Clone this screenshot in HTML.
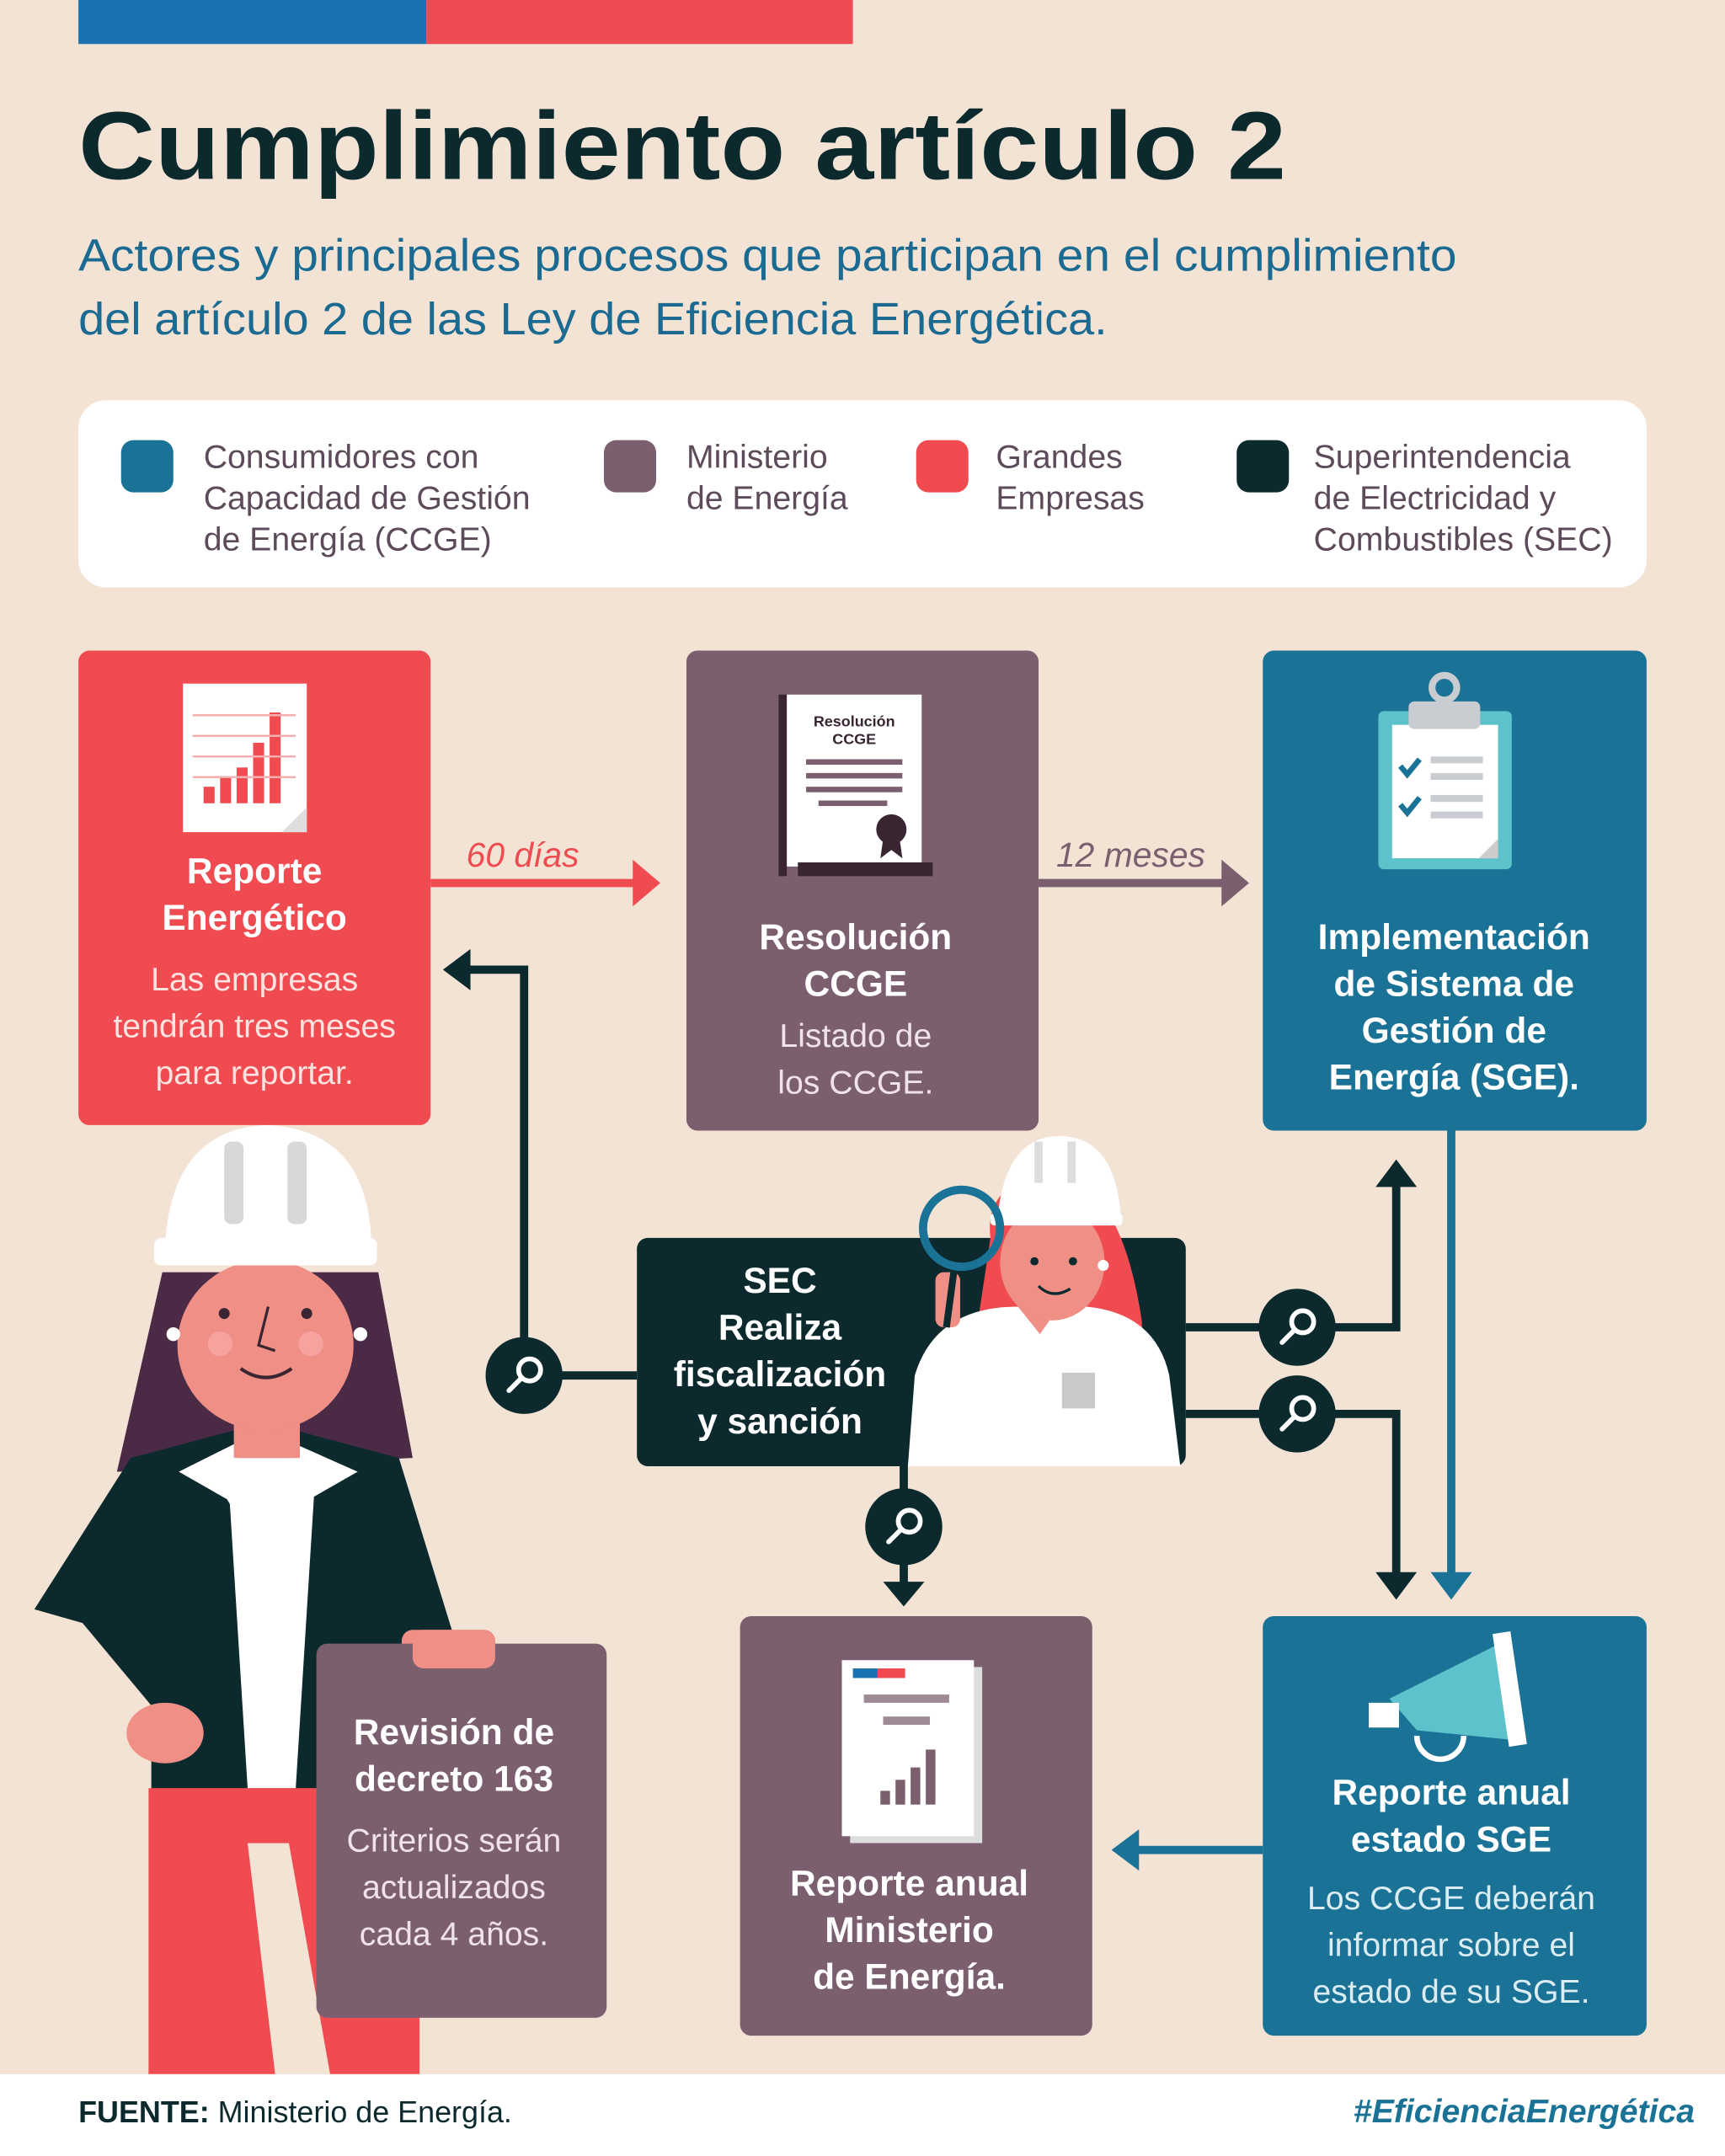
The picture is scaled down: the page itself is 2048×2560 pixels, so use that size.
<!DOCTYPE html>
<html><head><meta charset="utf-8"><style>
html,body{margin:0;padding:0;background:#f3e3d5;}
svg{display:block;}
text{font-family:"Liberation Sans","DejaVu Sans",sans-serif;}
</style></head><body>
<svg width="2048" height="2560" viewBox="0 0 1254 1567.5" xmlns="http://www.w3.org/2000/svg">
<rect width="1254" height="1567.5" fill="#f3e3d5"/>
<rect x="57" y="0" width="253" height="32" fill="#1b72b0"/>
<rect x="310" y="0" width="310" height="32" fill="#ef4b53"/>
<text x="57" y="130" font-size="70" font-weight="bold" fill="#0c2a2e" textLength="878" lengthAdjust="spacingAndGlyphs">Cumplimiento artículo 2</text>
<text x="57" y="197" font-size="33" fill="#1a6a92" textLength="1002" lengthAdjust="spacingAndGlyphs">Actores y principales procesos que participan en el cumplimiento</text>
<text x="57" y="243" font-size="33" fill="#1a6a92" textLength="748" lengthAdjust="spacingAndGlyphs">del artículo 2 de las Ley de Eficiencia Energética.</text>

<rect x="57" y="291" width="1140" height="136" rx="20" fill="#fff"/>
<g font-size="24" fill="#5e4b5a">
<rect x="88" y="320" width="38" height="38" rx="9" fill="#1a7396"/>
<text x="148" y="340">Consumidores con</text><text x="148" y="370">Capacidad de Gestión</text><text x="148" y="400">de Energía (CCGE)</text>
<rect x="439" y="320" width="38" height="38" rx="9" fill="#7b5f6f"/>
<text x="499" y="340">Ministerio</text><text x="499" y="370">de Energía</text>
<rect x="666" y="320" width="38" height="38" rx="9" fill="#ef4b50"/>
<text x="724" y="340">Grandes</text><text x="724" y="370">Empresas</text>
<rect x="899" y="320" width="38" height="38" rx="9" fill="#0c2a2e"/>
<text x="955" y="340">Superintendencia</text><text x="955" y="370">de Electricidad y</text><text x="955" y="400">Combustibles (SEC)</text>
</g>

<!-- connectors -->
<g stroke="#0c2a2e" stroke-width="6" fill="none">
<path d="M463 1000 H381 V705 H338"/>
<path d="M862 965 H1015 V860"/>
<path d="M862 1028 H1015 V1150"/>
<path d="M657 1066 V1155"/>
</g>
<g fill="#0c2a2e">
<polygon points="322,705 342,690 342,720"/>
<polygon points="1015,843 1000,863 1030,863"/>
<polygon points="1015,1163 1000,1143 1030,1143"/>
<polygon points="657,1168 642,1150 672,1150"/>
</g>
<g stroke="#1a7396" stroke-width="6" fill="none">
<path d="M1055 822 V1150"/><path d="M918 1345 H825"/>
</g>
<g fill="#1a7396">
<polygon points="1055,1163 1040,1143 1070,1143"/>
<polygon points="808,1345 828,1330 828,1360"/>
</g>
<line x1="313" y1="642" x2="465" y2="642" stroke="#ef4b50" stroke-width="6"/>
<polygon points="480,642 460,625 460,659" fill="#ef4b50"/>
<text x="380" y="630" font-size="25" font-style="italic" fill="#ef4b50" text-anchor="middle">60 días</text>
<line x1="755" y1="642" x2="893" y2="642" stroke="#7b5f6f" stroke-width="6"/>
<polygon points="908,642 888,625 888,659" fill="#7b5f6f"/>
<text x="822" y="630" font-size="25" font-style="italic" fill="#7b5f6f" text-anchor="middle">12 meses</text>

<!-- magnifier circles -->
<g>
<circle cx="381" cy="1000" r="28" fill="#0c2a2e"/>
<circle cx="943" cy="965" r="28" fill="#0c2a2e"/>
<circle cx="943" cy="1028" r="28" fill="#0c2a2e"/>
<circle cx="657" cy="1110" r="28" fill="#0c2a2e"/>
<g stroke="#fff" stroke-width="3.5" fill="none" stroke-linecap="round">
<circle cx="385" cy="996" r="8"/><line x1="379" y1="1002" x2="370" y2="1011"/>
<circle cx="947" cy="961" r="8"/><line x1="941" y1="967" x2="932" y2="976"/>
<circle cx="947" cy="1024" r="8"/><line x1="941" y1="1030" x2="932" y2="1039"/>
<circle cx="661" cy="1106" r="8"/><line x1="655" y1="1112" x2="646" y2="1121"/>
</g></g>

<!-- red box -->
<rect x="57" y="473" width="256" height="345" rx="8" fill="#ef4b50"/>
<rect x="133" y="497" width="90" height="108" fill="#fff"/>
<polygon points="205,605 223,605 223,587" fill="#ddd"/>
<g fill="#ef4b50"><rect x="148" y="572" width="8" height="12"/><rect x="160" y="565" width="8" height="19"/><rect x="172" y="558" width="8" height="26"/><rect x="184" y="540" width="8" height="44"/><rect x="196" y="518" width="8" height="66"/></g>
<g stroke="#f4b0b0" stroke-width="1.5"><line x1="140" y1="520" x2="215" y2="520"/><line x1="140" y1="535" x2="215" y2="535"/><line x1="140" y1="550" x2="215" y2="550"/><line x1="140" y1="565" x2="215" y2="565"/></g>
<g fill="#fff" text-anchor="middle">
<text x="185" y="642" font-size="26" font-weight="bold">Reporte</text>
<text x="185" y="676" font-size="26" font-weight="bold">Energético</text>
<g font-size="24" fill="#fde3e0"><text x="185" y="720">Las empresas</text><text x="185" y="754">tendrán tres meses</text><text x="185" y="788">para reportar.</text></g>
</g>

<!-- purple box -->
<rect x="499" y="473" width="256" height="349" rx="8" fill="#7b5f6f"/>
<rect x="566" y="505" width="6" height="132" fill="#3a2633"/>
<rect x="572" y="505" width="98" height="125" fill="#fff"/>
<rect x="580" y="627" width="98" height="10" fill="#3a2633"/>
<text x="621" y="528" font-size="11" font-weight="bold" font-family="Liberation Serif,serif" text-anchor="middle" fill="#3a2633">Resolución</text>
<text x="621" y="541" font-size="11" font-weight="bold" font-family="Liberation Serif,serif" text-anchor="middle" fill="#3a2633">CCGE</text>
<g fill="#7b5f6f"><rect x="586" y="552" width="70" height="4"/><rect x="586" y="562" width="70" height="4"/><rect x="586" y="572" width="70" height="4"/><rect x="595" y="582" width="50" height="4"/></g>
<circle cx="648" cy="603" r="11" fill="#3a2633"/><polygon points="642,610 654,610 656,624 648,618 640,624" fill="#3a2633"/>
<g fill="#fff" text-anchor="middle">
<text x="622" y="690" font-size="26" font-weight="bold">Resolución</text>
<text x="622" y="724" font-size="26" font-weight="bold">CCGE</text>
<g font-size="24" fill="#f0e2ea"><text x="622" y="761">Listado de</text><text x="622" y="795">los CCGE.</text></g>
</g>

<!-- blue box -->
<rect x="918" y="473" width="279" height="349" rx="8" fill="#1a7396"/>
<rect x="1002" y="517" width="97" height="115" rx="4" fill="#5ec2cc"/>
<rect x="1012" y="527" width="77" height="97" fill="#fff"/>
<polygon points="1075,624 1089,624 1089,610" fill="#ccc"/>
<rect x="1024" y="510" width="52" height="20" rx="4" fill="#c9ccd0"/>
<circle cx="1050" cy="500" r="9" fill="none" stroke="#c9ccd0" stroke-width="5"/>
<g stroke="#1a7396" stroke-width="4" fill="none"><path d="M1018 557 l5 6 l9 -11"/><path d="M1018 585 l5 6 l9 -11"/></g>
<g fill="#c9ccd0"><rect x="1040" y="550" width="38" height="5"/><rect x="1040" y="562" width="38" height="5"/><rect x="1040" y="578" width="38" height="5"/><rect x="1040" y="590" width="38" height="5"/></g>
<g fill="#fff" text-anchor="middle" font-size="26" font-weight="bold">
<text x="1057" y="690">Implementación</text><text x="1057" y="724">de Sistema de</text><text x="1057" y="758">Gestión de</text><text x="1057" y="792">Energía (SGE).</text>
</g>

<!-- SEC box -->
<rect x="463" y="900" width="399" height="166" rx="8" fill="#0c2a2e"/>
<g fill="#fff" text-anchor="middle" font-size="26" font-weight="bold">
<text x="567" y="940">SEC</text><text x="567" y="974">Realiza</text><text x="567" y="1008">fiscalización</text><text x="567" y="1042">y sanción</text>
</g>
<!-- small woman -->
<path d="M720 900 Q715 860 765 850 Q815 860 830 960 L832 1000 L705 1000 Z" fill="#ef4b50"/>
<path d="M660 1066 L665 1000 Q680 950 740 950 L790 950 Q840 955 850 1000 L858 1066 Z" fill="#fff"/>
<rect x="772" y="998" width="24" height="26" fill="#c9c9c9"/>
<polygon points="740,950 756,970 770,950" fill="#f08f86"/>
<ellipse cx="765" cy="918" rx="38" ry="42" fill="#f08f86"/>
<path d="M725 888 Q730 826 770 826 Q812 826 815 888 Z" fill="#fff"/>
<rect x="752" y="830" width="6" height="30" fill="#ddd"/><rect x="776" y="830" width="6" height="30" fill="#ddd"/>
<rect x="720" y="882" width="96" height="9" rx="3" fill="#fff"/>
<circle cx="752" cy="917" r="3" fill="#0c2a2e"/><circle cx="780" cy="917" r="3" fill="#0c2a2e"/>
<path d="M755 935 Q765 945 778 937" stroke="#0c2a2e" stroke-width="2" fill="none"/>
<circle cx="802" cy="920" r="4" fill="#fff"/>
<rect x="680" y="925" width="18" height="40" rx="6" fill="#f08f86"/>
<line x1="694" y1="920" x2="688" y2="965" stroke="#0c2a2e" stroke-width="5"/>
<circle cx="699" cy="893" r="28" fill="none" stroke="#1a7396" stroke-width="6"/>

<!-- big woman -->
<path d="M118 925 L275 925 L300 1060 L85 1070 Z" fill="#4b2a45"/>
<path d="M25 1170 L95 1060 L170 1040 L215 1040 L290 1060 L330 1190 L330 1320 L110 1320 L110 1240 L60 1180 Z" fill="#0c2a2e"/>
<rect x="108" y="1300" width="197" height="208" fill="#ef4b50"/>
<polygon points="180,1340 210,1340 240,1508 200,1508" fill="#f3e3d5"/>
<polygon points="165,1060 230,1060 215,1300 180,1300" fill="#fff"/>
<polygon points="130,1070 170,1050 195,1110 215,1050 260,1070 225,1090 195,1140 165,1090" fill="#fff"/>
<rect x="170" y="1020" width="48" height="40" fill="#f08f86"/>
<ellipse cx="193" cy="978" rx="64" ry="62" fill="#f08f86"/>
<circle cx="126" cy="970" r="5" fill="#fff"/><circle cx="262" cy="970" r="5" fill="#fff"/>
<circle cx="163" cy="955" r="4" fill="#3a2633"/><circle cx="223" cy="955" r="4" fill="#3a2633"/>
<circle cx="160" cy="977" r="9" fill="#f6a3a0"/><circle cx="226" cy="977" r="9" fill="#f6a3a0"/>
<path d="M175 995 Q193 1008 212 995" stroke="#3a2633" stroke-width="2.5" fill="none"/>
<path d="M195 950 L188 978 L200 982" stroke="#3a2633" stroke-width="2" fill="none"/>
<path d="M120 905 Q125 820 195 818 Q268 822 270 905 Z" fill="#fff"/>
<rect x="163" y="830" width="14" height="60" rx="5" fill="#d8d8d8"/><rect x="209" y="830" width="14" height="60" rx="5" fill="#d8d8d8"/>
<rect x="112" y="900" width="162" height="20" rx="5" fill="#fff"/>
<ellipse cx="120" cy="1260" rx="28" ry="22" fill="#f08f86"/>
<rect x="292" y="1185" width="68" height="28" rx="8" fill="#f08f86"/>

<!-- Revision box -->
<rect x="230" y="1195" width="211" height="272" rx="8" fill="#7b5f6f"/>
<rect x="300" y="1185" width="60" height="28" rx="8" fill="#f08f86"/>
<g fill="#fff" text-anchor="middle">
<text x="330" y="1268" font-size="26" font-weight="bold">Revisión de</text>
<text x="330" y="1302" font-size="26" font-weight="bold">decreto 163</text>
<g font-size="24" fill="#f0e2ea"><text x="330" y="1346">Criterios serán</text><text x="330" y="1380">actualizados</text><text x="330" y="1414">cada 4 años.</text></g>
</g>

<!-- Ministerio report box -->
<rect x="538" y="1175" width="256" height="305" rx="8" fill="#7b5f6f"/>
<rect x="618" y="1212" width="96" height="128" fill="#ddd"/>
<rect x="612" y="1207" width="96" height="128" fill="#fff"/>
<rect x="620" y="1213" width="18" height="7" fill="#1b72b0"/><rect x="638" y="1213" width="20" height="7" fill="#ef4b50"/>
<rect x="628" y="1232" width="62" height="6" fill="#9d8a95"/><rect x="642" y="1248" width="34" height="6" fill="#9d8a95"/>
<g fill="#7b5f6f"><rect x="640" y="1302" width="7" height="10"/><rect x="651" y="1294" width="7" height="18"/><rect x="662" y="1285" width="7" height="27"/><rect x="673" y="1272" width="7" height="40"/></g>
<g fill="#fff" text-anchor="middle" font-size="26" font-weight="bold">
<text x="661" y="1378">Reporte anual</text><text x="661" y="1412">Ministerio</text><text x="661" y="1446">de Energía.</text>
</g>

<!-- SGE box -->
<rect x="918" y="1175" width="279" height="305" rx="8" fill="#1a7396"/>
<polygon points="1010,1235 1090,1195 1100,1265 1030,1258" fill="#5ec2cc"/>
<rect x="995" y="1238" width="22" height="18" fill="#fff"/>
<polygon points="1085,1188 1098,1186 1110,1268 1097,1270" fill="#fff"/>
<path d="M1030 1262 a17 17 0 0 0 34 0" stroke="#fff" stroke-width="4" fill="none"/>
<g fill="#fff" text-anchor="middle">
<text x="1055" y="1312" font-size="26" font-weight="bold">Reporte anual</text>
<text x="1055" y="1346" font-size="26" font-weight="bold">estado SGE</text>
<g font-size="24" fill="#dcecf3"><text x="1055" y="1388">Los CCGE deberán</text><text x="1055" y="1422">informar sobre el</text><text x="1055" y="1456">estado de su SGE.</text></g>
</g>

<!-- footer -->
<rect x="0" y="1508" width="1254" height="60" fill="#fff"/>
<text x="57" y="1543" font-size="22" fill="#0c2a2e"><tspan font-weight="bold">FUENTE:</tspan> Ministerio de Energía.</text>
<text x="1232" y="1543" font-size="24" font-weight="bold" font-style="italic" fill="#1a7396" text-anchor="end">#EficienciaEnergética</text>
</svg>
</body></html>
